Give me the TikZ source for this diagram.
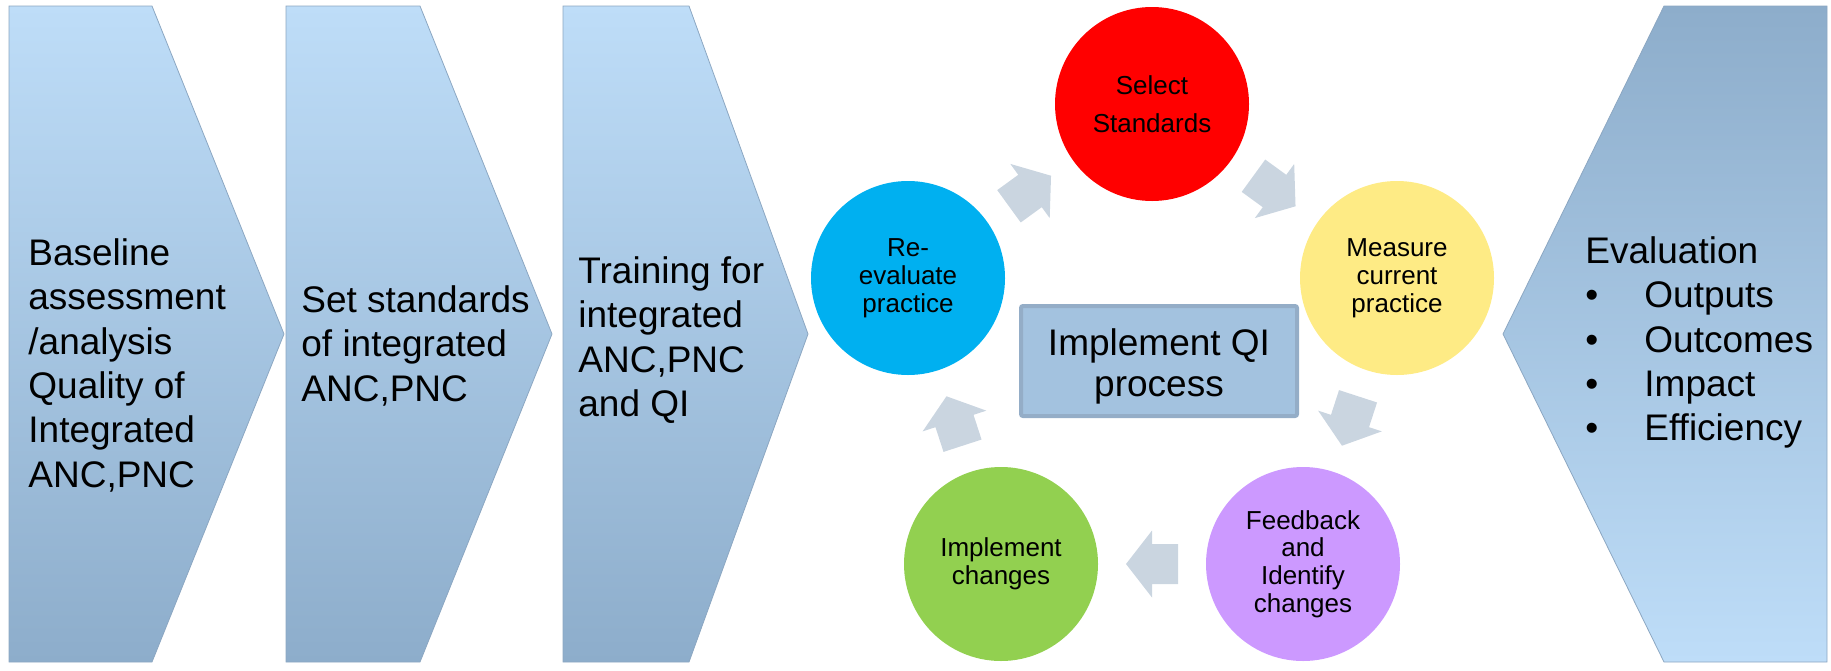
\documentclass[tikz,border=0pt]{standalone}
\usepackage{fontspec}
\setmainfont{Liberation Sans}
\usetikzlibrary{calc}

\definecolor{chevtop}{RGB}{190,221,248}
\definecolor{chevbot}{RGB}{141,173,203}
\definecolor{chevline}{RGB}{140,167,194}
\definecolor{arrowgray}{RGB}{202,213,224}
\definecolor{qifill}{RGB}{163,194,223}
\definecolor{qiline}{RGB}{148,173,199}
\definecolor{selred}{RGB}{255,0,0}
\definecolor{reblue}{RGB}{0,176,240}
\definecolor{measyellow}{RGB}{254,235,133}
\definecolor{implgreen}{RGB}{146,208,80}
\definecolor{feedpurple}{RGB}{204,153,255}

\tikzset{
  chevtext/.style={anchor=north west, inner sep=0, align=left,
    font=\fontsize{18.5}{22.2}\selectfont},
  stepcircle/.style={circle, minimum size=97pt, inner sep=0, align=center,
    font=\fontsize{13}{13.9}\selectfont},
  cyclearrow/.pic={\fill[arrowgray] (-26,-20)--(0,-20)--(0,-33.5)--(26,0)
    --(0,33.5)--(0,20)--(-26,20)--cycle;}
}

\begin{document}
\begin{tikzpicture}[x=0.5pt,y=-0.5pt]
\useasboundingbox (0,0) rectangle (1831,670);
% chevrons
\shade[top color=chevtop,bottom color=chevbot,draw=chevline]
(9,6)--(152,6)--(284,334)--(152,662)--(9,662)--cycle;
\shade[top color=chevtop,bottom color=chevbot,draw=chevline]
(286,6)--(420,6)--(552,334)--(420,662)--(286,662)--cycle;
\shade[top color=chevtop,bottom color=chevbot,draw=chevline]
(563,6)--(689,6)--(808,334)--(689,662)--(563,662)--cycle;
\shade[top color=chevbot,bottom color=chevtop,draw=chevline]
(1827,6)--(1664,6)--(1503,334)--(1664,662)--(1827,662)--cycle;
\node[chevtext] (baseline) at (28,238)
{Baseline\\assessment\\/analysis\\Quality of\\Integrated\\ANC,PNC};
\node[chevtext] (setstd) at (301,285) {Set standards\\of integrated\\ANC,PNC};
\node[chevtext] (training) at (578,256) {Training for\\integrated\\ANC,PNC\\and QI};
\node[chevtext] (evaluation) at (1585,236)
{Evaluation\\\makebox[29.5pt][l]{\textbullet}Outputs\\
\makebox[29.5pt][l]{\textbullet}Outcomes\\
\makebox[29.5pt][l]{\textbullet}Impact\\
\makebox[29.5pt][l]{\textbullet}Efficiency};
% QI cycle
\node[draw=qiline, line width=2pt, fill=qifill, rounded corners=1pt,
minimum width=138pt, minimum height=55pt] (qi) at (1159,361) {};
\node[align=center, inner sep=0, font=\fontsize{18.5}{20.5}\selectfont]
(qitext) at ($(qi.center)+(0,5)$) {Implement QI\\process};
\node[stepcircle, fill=selred, font=\fontsize{13}{19}\selectfont]
(select) at (1152,104) {Select\\Standards};
\node[stepcircle, fill=measyellow] (measure) at (1397,278) {Measure\\current\\practice};
\node[stepcircle, fill=feedpurple] (feedback) at (1303,564)
{Feedback\\and\\Identify\\changes};
\node[stepcircle, fill=implgreen] (implement) at (1001,564) {Implement\\changes};
\node[stepcircle, fill=reblue] (reeval) at (908,278) {Re-\\evaluate\\practice};
\pic[rotate=36] at ($(reeval)!0.5!(select)$) {cyclearrow};
\pic[rotate=-36] at ($(select)!0.5!(measure)$) {cyclearrow};
\pic[rotate=-108] at ($(measure)!0.5!(feedback)$) {cyclearrow};
\pic[rotate=180] at ($(feedback)!0.5!(implement)$) {cyclearrow};
\pic[rotate=108] at ($(implement)!0.5!(reeval)$) {cyclearrow};
\end{tikzpicture}
\end{document}
